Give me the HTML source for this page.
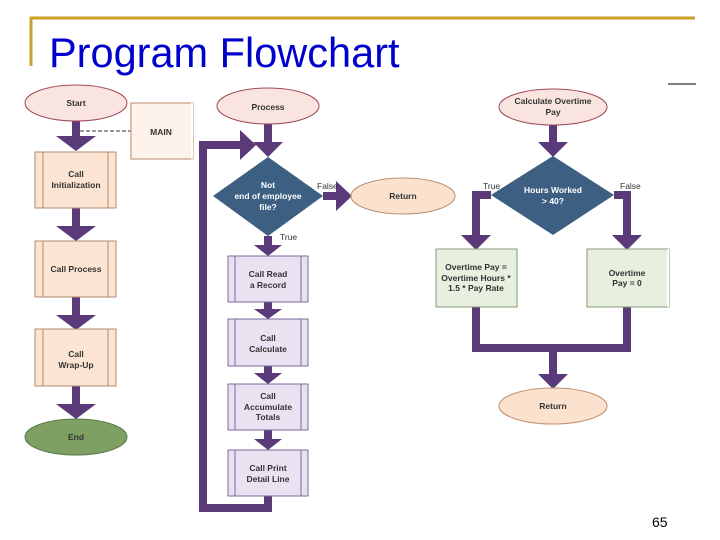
<!DOCTYPE html>
<html><head><style>
body{margin:0;background:#fff;width:720px;height:540px;overflow:hidden}
svg{display:block}
text{font-family:"Liberation Sans",sans-serif}
.s{font-size:8.5px;font-weight:bold;fill:#333;text-anchor:middle}
.w{font-size:8.5px;font-weight:bold;fill:#fff;text-anchor:middle}
.l{font-size:8.5px;fill:#333}
</style></head><body>
<svg width="720" height="540" viewBox="0 0 720 540">
<line x1="30" y1="18" x2="695" y2="18" stroke="#c9a227" stroke-width="3"/>
<line x1="31" y1="17" x2="31" y2="66" stroke="#c9a227" stroke-width="3"/>
<line x1="668" y1="84" x2="696" y2="84" stroke="#000" stroke-width="1"/>
<text x="49" y="67" font-size="41.5" fill="#0000cc">Program Flowchart</text>
<text x="652" y="527" font-size="14" fill="#000">65</text>

<g stroke="#5b3a7a" stroke-width="8" fill="none">
<path d="M76,121V138"/>
<path d="M76,208V227"/>
<path d="M76,297V316"/>
<path d="M76,386V405"/>
<path d="M268,124V143"/>
<path d="M323,196H338"/>
<path d="M268,236V246"/>
<path d="M268,302V310"/>
<path d="M268,366V374"/>
<path d="M268,430V440"/>
<path d="M268,496V508H203V145H242"/>
<path d="M553,125V143"/>
<path d="M491,195H476V236"/>
<path d="M614,195H627V236"/>
<path d="M476,307V348H627V307"/>
<path d="M553,348V375"/>
</g>
<g fill="#5b3a7a">
<path d="M56,136H96L76,151z"/>
<path d="M56,226H96L76,241z"/>
<path d="M56,315H96L76,330z"/>
<path d="M56,404H96L76,419z"/>
<path d="M253,142H283L268,157z"/>
<path d="M336,181V211L352,196z"/>
<path d="M254,245H282L268,256z"/>
<path d="M254,309H282L268,319z"/>
<path d="M254,373H282L268,384z"/>
<path d="M254,439H282L268,450z"/>
<path d="M240,130V160L256,145z"/>
<path d="M538,142H568L553,157z"/>
<path d="M461,235H491L476,250z"/>
<path d="M612,235H642L627,250z"/>
<path d="M538,374H568L553,389z"/>
</g>
<line x1="80" y1="131" x2="131" y2="131" stroke="#333" stroke-dasharray="4,2"/>

<rect x="131" y="103" width="62" height="56" fill="#fdf3ea" stroke="#c08a6a"/>
<line x1="192" y1="103" x2="192" y2="159" stroke="#fff" stroke-width="2"/>
<text x="161" y="135" class="s">MAIN</text>

<g fill="#fbe5d2" stroke="#b08a70">
<rect x="35" y="152" width="81" height="56"/><rect x="35" y="241" width="81" height="56"/><rect x="35" y="329" width="81" height="57"/>
</g>
<g stroke="#b08a70"><path d="M43,152V208M108,152V208M43,241V297M108,241V297M43,329V386M108,329V386"/></g>
<text x="76" y="177" class="s">Call</text><text x="76" y="188" class="s">Initialization</text>
<text x="76" y="272" class="s">Call Process</text>
<text x="76" y="357" class="s">Call</text><text x="76" y="368" class="s">Wrap-Up</text>

<ellipse cx="76" cy="103" rx="51" ry="18" fill="#f9e4e0" stroke="#a04a5a"/>
<text x="76" y="106" class="s">Start</text>
<ellipse cx="76" cy="437" rx="51" ry="18" fill="#7ea062" stroke="#5a7a4a"/>
<text x="76" y="440" class="s">End</text>

<ellipse cx="268" cy="106" rx="51" ry="18" fill="#f9e4e0" stroke="#a04a5a"/>
<text x="268" y="110" class="s">Process</text>
<path d="M268,157L323,196L268,236L213,196z" fill="#3d5f82"/>
<text x="268" y="188" class="w">Not</text><text x="268" y="199" class="w">end of employee</text><text x="268" y="210" class="w">file?</text>
<text x="317" y="189" class="l">False</text><text x="280" y="240" class="l">True</text>
<ellipse cx="403" cy="196" rx="52" ry="18" fill="#fbe2ce" stroke="#c09070"/>
<text x="403" y="199" class="s">Return</text>

<g fill="#e9e2f1" stroke="#7a6a9a">
<rect x="228" y="256" width="80" height="46"/><rect x="228" y="319" width="80" height="47"/><rect x="228" y="384" width="80" height="46"/><rect x="228" y="450" width="80" height="46"/>
</g>
<g stroke="#7a6a9a"><path d="M235,256V302M301,256V302M235,319V366M301,319V366M235,384V430M301,384V430M235,450V496M301,450V496"/></g>
<text x="268" y="277" class="s">Call Read</text><text x="268" y="288" class="s">a Record</text>
<text x="268" y="341" class="s">Call</text><text x="268" y="352" class="s">Calculate</text>
<text x="268" y="399" class="s">Call</text><text x="268" y="410" class="s">Accumulate</text><text x="268" y="420" class="s">Totals</text>
<text x="268" y="471" class="s">Call Print</text><text x="268" y="482" class="s">Detail Line</text>

<ellipse cx="553" cy="107" rx="54" ry="18" fill="#f9e4e0" stroke="#a04a5a"/>
<text x="553" y="104" class="s">Calculate Overtime</text><text x="553" y="115" class="s">Pay</text>
<path d="M553,156L614,195L553,235L491,195z" fill="#3d5f82"/>
<text x="553" y="193" class="w">Hours Worked</text><text x="553" y="204" class="w">&gt; 40?</text>
<text x="483" y="189" class="l">True</text><text x="620" y="189" class="l">False</text>
<rect x="436" y="249" width="81" height="58" fill="#e7efde" stroke="#8a9a7a"/>
<rect x="587" y="249" width="82" height="58" fill="#e7efde" stroke="#8a9a7a"/>
<line x1="668" y1="249" x2="668" y2="307" stroke="#fff" stroke-width="2"/>
<text x="476" y="270" class="s">Overtime Pay =</text><text x="476" y="281" class="s">Overtime Hours *</text><text x="476" y="291" class="s">1.5 * Pay Rate</text>
<text x="627" y="276" class="s">Overtime</text><text x="627" y="286" class="s">Pay = 0</text>
<ellipse cx="553" cy="406" rx="54" ry="18" fill="#fbe2ce" stroke="#c09070"/>
<text x="553" y="409" class="s">Return</text>
</svg>
</body></html>
